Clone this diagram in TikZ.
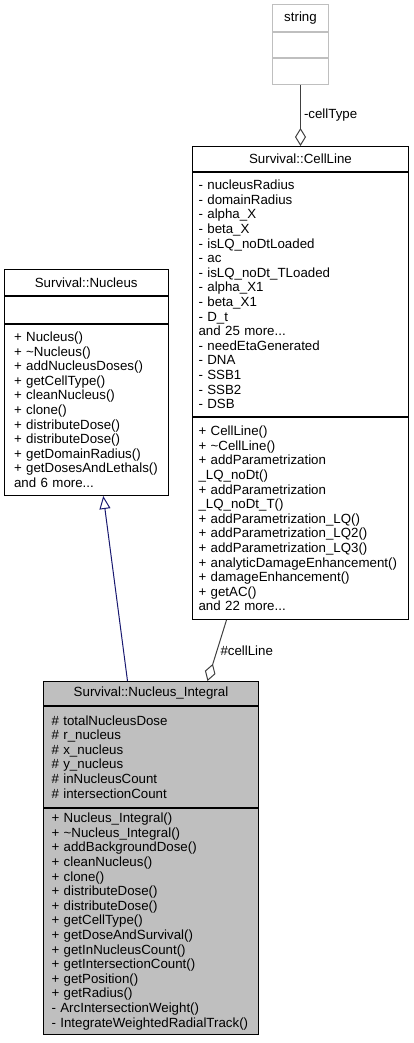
\documentclass[tikz,border=0pt]{standalone}
\usepackage{fontspec}
\setmainfont{Liberation Sans}
\usepackage{xcolor}
\usepackage{tikz}
\usetikzlibrary{arrows.meta,positioning,calc}
\definecolor{inhblue}{HTML}{191970}

\begin{document}
\begin{tikzpicture}[x=1pt,y=-1pt,node distance=0pt,
  part/.style={rectangle,draw=black,line width=1pt,fill=white,inner ysep=0pt,
               align=left,font=\fontsize{13.3}{14.6}\selectfont},
  head/.style={part,align=center,inner sep=0pt},
  ghost/.style={head,draw=black!25},
  focus/.style={part,fill=black!25},
  cellw/.style={text width=204pt,inner xsep=6pt},
  nucw/.style={text width=144.5pt,inner xsep=10pt},
  nintw/.style={text width=199pt,inner xsep=8pt},
  lbl/.style={font=\fontsize{13.3}{14.6}\selectfont,text=black,inner sep=3pt},
  inh/.style={draw,line width=1pt,inhblue,-{Triangle[open,length=13pt,width=11pt]}},
  agg/.style={draw,line width=1pt,black!75,{Diamond[open,length=18pt,width=11pt]}-}]
\useasboundingbox (0,0) rectangle (413,1043);
% std::string
\node[ghost,minimum width=56pt,minimum height=27pt,anchor=north west] (str) at (272,4.5) {string};
\node[ghost,minimum width=56pt,minimum height=25pt,below=of str] (str-a) {};
\node[ghost,minimum width=56pt,minimum height=25.5pt,below=of str-a] (str-m) {};
% Survival::CellLine
\node[head,minimum width=216pt,minimum height=25pt,anchor=north west] (cell) at (192,146) {Survival::CellLine};
\node[part,cellw,minimum height=244pt,below=of cell] (cell-a) {- nucleusRadius\\- domainRadius\\- alpha\_X\\- beta\_X\\- isLQ\_noDtLoaded\\- ac\\- isLQ\_noDt\_TLoaded\\- alpha\_X1\\- beta\_X1\\- D\_t\\and 25 more...\\- needEtaGenerated\\- DNA\\- SSB1\\- SSB2\\- DSB};
\node[part,cellw,minimum height=202pt,below=of cell-a] (cell-m) {+ CellLine()\\+ \textasciitilde CellLine()\\+ addParametrization\\\_LQ\_noDt()\\+ addParametrization\\\_LQ\_noDt\_T()\\+ addParametrization\_LQ()\\+ addParametrization\_LQ2()\\+ addParametrization\_LQ3()\\+ analyticDamageEnhancement()\\+ damageEnhancement()\\+ getAC()\\and 22 more...};
% Survival::Nucleus
\node[head,minimum width=164.5pt,minimum height=26pt,anchor=north west] (nuc) at (3.5,269) {Survival::Nucleus};
\node[head,minimum width=164.5pt,minimum height=26.5pt,below=of nuc] (nuc-a) {};
\node[part,nucw,minimum height=171.5pt,below=of nuc-a] (nuc-m) {+ Nucleus()\\+ \textasciitilde Nucleus()\\+ addNucleusDoses()\\+ getCellType()\\+ cleanNucleus()\\+ clone()\\+ distributeDose()\\+ distributeDose()\\+ getDomainRadius()\\+ getDosesAndLethals()\\and 6 more...};
% Survival::Nucleus_Integral
\node[head,fill=black!25,minimum width=215pt,minimum height=23.5pt,anchor=north west] (nint) at (43,681) {Survival::Nucleus\_Integral};
\node[focus,nintw,minimum height=101.5pt,below=of nint] (nint-a) {\# totalNucleusDose\\\# r\_nucleus\\\# x\_nucleus\\\# y\_nucleus\\\# inNucleusCount\\\# intersectionCount};
\node[focus,nintw,minimum height=226pt,below=of nint-a] (nint-m) {+ Nucleus\_Integral()\\+ \textasciitilde Nucleus\_Integral()\\+ addBackgroundDose()\\+ cleanNucleus()\\+ clone()\\+ distributeDose()\\+ distributeDose()\\+ getCellType()\\+ getDoseAndSurvival()\\+ getInNucleusCount()\\+ getIntersectionCount()\\+ getPosition()\\+ getRadius()\\- ArcIntersectionWeight()\\- IntegrateWeightedRadialTrack()};
\path[inh] ([xshift=-23.5pt]nint.north) -- ([xshift=17pt]nuc-m.south);
\path[agg] ([xshift=56.5pt]nint.north) -- node[lbl,right]{\#cellLine} ([xshift=-74pt]cell-m.south);
\path[agg] (cell.north) -- node[lbl,right]{-cellType} (str-m.south);
\end{tikzpicture}
\end{document}
